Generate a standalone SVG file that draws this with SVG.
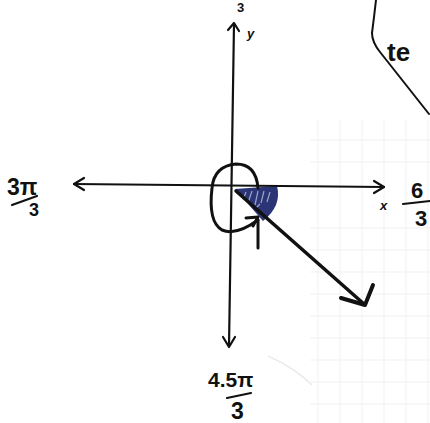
<svg xmlns="http://www.w3.org/2000/svg" width="430" height="423" viewBox="0 0 430 423">
<defs>
<style>
.ink{fill:none;stroke:#111;stroke-linecap:round;stroke-linejoin:round}
.t{font-family:"Liberation Sans",Arial,sans-serif;fill:#111;font-weight:bold}
.grid{stroke:#f1f1f1;stroke-width:1}
</style>
</defs>
<rect width="430" height="423" fill="#fff"/>
<g id="grid">
<path class="grid" d="M318 120V423M340 120V423M362 120V423M384 120V423M406 120V423M428 120V423M310 140H430M310 162H430M310 228H430M310 250H430M310 272H430M310 294H430M310 316H430M310 338H430M310 360H430M310 382H430M310 404H430"/>
<path d="M268 356 Q295 368 312 385" fill="none" stroke="#ebebeb" stroke-width="1.5"/>
</g>
<g id="wedge">
<path d="M235 189 L277 186 Q282 206 263 221 Z" fill="#2b3474"/>
<path d="M246 192 l-3 8 M252 191 l-4 12 M258 191 l-3 14 M264 191 l-3 12 M270 192 l-3 10 M256 208 l4 -4" stroke="#b9c0e0" stroke-width="1.2" fill="none" opacity="0.8"/>
</g>
<g id="axes">
<path class="ink" stroke-width="2.2" d="M234 24 L229 346"/>
<path class="ink" stroke-width="2.2" d="M228 30 L234 23 L239 31"/>
<path class="ink" stroke-width="2.2" d="M223 337 L229 347 L235 337"/>
<path class="ink" stroke-width="2.2" d="M74 184 L384 187"/>
<path class="ink" stroke-width="2.2" d="M84 178 L74 184 L84 190"/>
<path class="ink" stroke-width="2.2" d="M374 181 L384 187 L374 193"/>
</g>
<g id="ray">
<path class="ink" stroke-width="3.5" d="M236 191 L364 304"/>
<path class="ink" stroke-width="4" d="M341 298 L365 305 L373 285"/>
</g>
<g id="loop">
<path class="ink" stroke-width="3" d="M258 188 Q256 164 236 164 Q214 166 212 188 Q208 222 222 230 Q236 236 258 220"/>
<path class="ink" stroke-width="3" d="M246 218 L258 217 L253 226"/>
<path class="ink" stroke-width="3" d="M258 220 L258 248"/>
</g>
<g id="corner">
<path class="ink" stroke-width="2" d="M376 0 Q374 18 372 33 Q372 42 380 52 L429 114"/>
<text class="t" x="387" y="61" font-size="26" font-weight="normal">te</text>
</g>
<g id="labels">
<text class="t" x="237" y="12" font-size="13">3</text>
<text class="t" x="247" y="38" font-size="13" font-style="italic" font-weight="normal">y</text>
<text class="t" x="380" y="210" font-size="13" font-style="italic" font-weight="normal">x</text>
<text class="t" x="7" y="195" font-size="23">3π</text>
<path class="ink" stroke-width="2.2" d="M12 205 L37 196"/>
<text class="t" x="29" y="216" font-size="18">3</text>
<text class="t" x="411" y="198" font-size="22">6</text>
<path class="ink" stroke-width="2.2" d="M403 204 L430 201"/>
<text class="t" x="415" y="226" font-size="22">3</text>
<text class="t" x="208" y="387" font-size="21">4.5π</text>
<path class="ink" stroke-width="2.2" d="M227 398 L251 393"/>
<text class="t" x="231" y="419" font-size="23">3</text>
</g>
</svg>
